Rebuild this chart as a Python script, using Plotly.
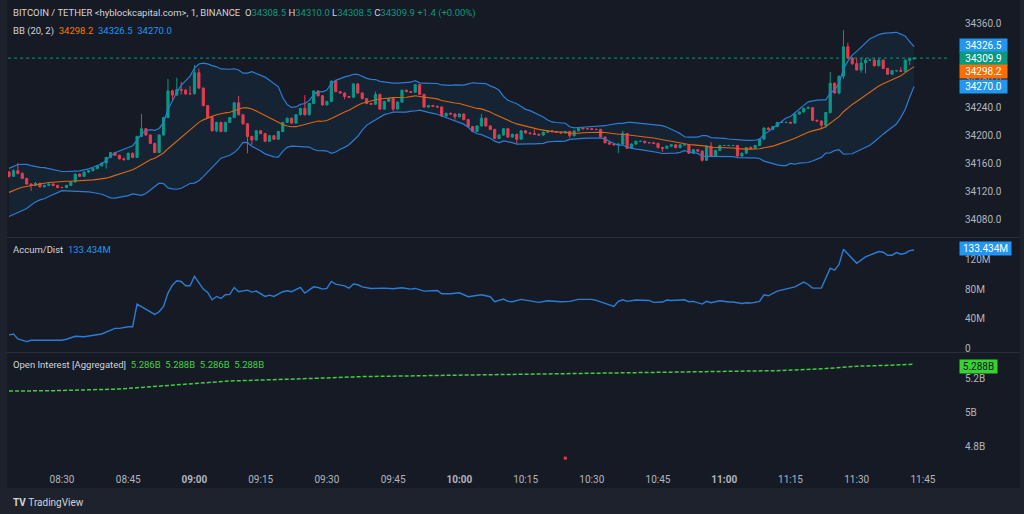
import plotly.graph_objects as go
from plotly.subplots import make_subplots
import pandas as pd

# ---------------- data ----------------
start_time = "2023-10-27 08:18"
first_open = 34147

closes = [34141,34149,34145,34138,34130,34128,34131,34126,34128,34130,
          34128,34125,34125,34128,34133,34144,34141,34147,34149,34152,
          34156,34160,34168,34175,34171,34166,34165,34174,34168,34198,
          34209,34200,34188,34175,34200,34225,34263,34257,34265,34264,
          34259,34259,34289,34267,34242,34225,34206,34218,34205,34218,
          34225,34246,34229,34216,34198,34193,34206,34202,34191,34199,
          34194,34205,34218,34224,34217,34229,34238,34229,34245,34263,
          34256,34243,34248,34277,34262,34260,34255,34254,34273,34260,
          34252,34245,34244,34258,34237,34248,34252,34237,34247,34264,
          34262,34261,34272,34258,34240,34242,34241,34240,34227,34231,
          34230,34226,34230,34222,34212,34205,34213,34224,34213,34208,
          34195,34200,34209,34197,34201,34194,34206,34203,34202,34201,
          34200,34204,34206,34205,34204,34203,34205,34199,34206,34210,
          34209,34209,34208,34208,34197,34189,34187,34186,34187,34202,
          34181,34187,34191,34191,34189,34189,34188,34182,34181,34184,
          34186,34182,34186,34186,34174,34179,34177,34164,34184,34170,
          34178,34185,34185,34185,34185,34170,34174,34182,34181,34185,
          34194,34210,34208,34212,34218,34218,34218,34217,34230,34233,
          34238,34239,34221,34220,34214,34232,34274,34260,34284,34326,
          34310,34302,34293,34303,34307,34307,34299,34307,34295,34287,
          34292,34292,34291,34307,34308.5,34309.9]

highs = [34149,34151,34160,34147,34139,34131,34133,34132,34129,34131,
         34131,34129,34126,34129,34134,34145,34145,34148,34150,34153,
         34157,34161,34169,34176,34176,34172,34168,34175,34175,34199,
         34230,34210,34201,34189,34201,34226,34280,34265,34282,34276,
         34266,34270,34300,34295,34268,34243,34226,34219,34219,34219,
         34226,34247,34256,34230,34217,34199,34207,34207,34203,34200,
         34200,34206,34219,34225,34225,34230,34239,34257,34246,34264,
         34264,34257,34249,34278,34278,34263,34261,34256,34274,34274,
         34261,34253,34246,34262,34259,34249,34253,34253,34248,34265,
         34265,34263,34273,34273,34259,34243,34243,34242,34241,34232,
         34232,34231,34231,34231,34223,34213,34214,34230,34225,34214,
         34209,34201,34210,34210,34202,34202,34207,34207,34204,34208,
         34202,34205,34207,34207,34206,34205,34206,34206,34207,34211,
         34211,34210,34210,34209,34209,34198,34190,34188,34188,34206,
         34203,34188,34192,34192,34192,34190,34190,34189,34183,34185,
         34187,34187,34187,34187,34187,34180,34180,34178,34185,34190,
         34179,34186,34186,34186,34186,34186,34175,34183,34184,34186,
         34195,34211,34211,34213,34219,34219,34219,34219,34231,34234,
         34239,34241,34240,34222,34221,34233,34290,34275,34285,34350,
         34332,34311,34310,34310,34310,34309,34310,34310,34308,34296,
         34293,34293,34297,34308,34310,34310]

lows = [34139,34140,34144,34137,34129,34120,34127,34125,34125,34127,
        34127,34124,34124,34124,34127,34132,34140,34140,34146,34148,
        34151,34155,34152,34167,34170,34165,34163,34164,34167,34167,
        34197,34199,34187,34174,34174,34199,34224,34250,34256,34258,
        34257,34257,34258,34266,34241,34224,34205,34204,34204,34204,
        34217,34224,34228,34215,34174,34186,34192,34201,34190,34190,
        34193,34193,34204,34217,34216,34216,34228,34228,34228,34244,
        34255,34242,34242,34247,34261,34259,34251,34253,34253,34259,
        34251,34244,34243,34243,34236,34236,34247,34234,34236,34246,
        34261,34260,34260,34257,34239,34239,34240,34239,34226,34226,
        34229,34222,34225,34221,34211,34204,34204,34212,34212,34207,
        34194,34194,34199,34196,34196,34188,34193,34202,34201,34200,
        34199,34199,34203,34204,34203,34202,34202,34196,34198,34205,
        34208,34208,34207,34207,34196,34188,34186,34185,34174,34186,
        34180,34180,34186,34190,34188,34188,34187,34181,34176,34180,
        34183,34181,34181,34185,34173,34173,34176,34162,34163,34169,
        34169,34177,34184,34184,34184,34169,34169,34173,34181,34180,
        34184,34193,34207,34207,34211,34217,34217,34216,34216,34229,
        34232,34237,34220,34219,34210,34210,34231,34259,34258,34280,
        34308,34300,34292,34289,34288,34306,34298,34298,34294,34286,
        34286,34290,34290,34290,34300,34308.5]

# closes before the visible window (needed for the Bollinger window of 20)
pre_closes = [34090,34102,34095,34105,34096,34101,34108,34115,34110,34114,
              34112,34113,34130,34135,34140,34138,34142,34136,34138]

# Accumulation / Distribution (millions) at candle indices
ad_idx = [0,1,2,4,5,9,12,13,15,17,21,24,25,27,28,29,31,33,34,35,36,37,38,39,40,41,42,43,44,45,46,47,48,49,50,51,52,54,55,56,58,59,60,62,63,64,66,67,69,70,71,72,73,74,76,77,78,79,80,82,85,87,89,91,92,94,97,98,100,102,104,107,109,110,112,113,114,116,118,120,122,125,127,129,132,133,135,137,138,139,140,142,145,146,148,149,150,153,154,155,157,158,159,161,163,164,166,167,168,170,171,172,174,176,178,180,181,182,184,186,187,188,189,190,191,192,194,195,197,198,199,200,201,202,203,204,205]
ad_val = [18,19.2,12.4,8.8,10.6,11,10.6,12,16,15.5,19.2,26.8,26.8,29,29,59.8,52.2,45.8,49.4,56.7,74.8,85.6,91.5,90.6,84.7,84.7,97.4,89.2,80.2,75.7,65.7,70.2,67.5,72.5,73,82.4,76.6,78.8,76.1,77.5,70.2,72,70.2,76.6,77.9,76.6,82.4,74.8,83.3,82.4,80.2,81.1,90.6,87,84.7,81.5,87,86.1,83.3,81.1,81.5,80.6,82,80.2,81.1,77.5,78.4,73.9,73.9,75.2,69.8,72.5,69.8,63,66.6,63.5,63,66.2,63.9,62.1,64.4,63,63.5,66.2,66.2,64.8,60.7,56.7,63.5,65.7,63.5,65.3,64.8,62.1,62.6,65.3,64.8,65.7,63,63.5,59.8,63.5,61.6,64.4,62.6,62.6,60.7,61.6,61.2,63.5,72.5,71.1,77.5,80.6,83.3,89.7,86.5,81.5,81.5,108.7,105.9,113.6,134.4,128,121,115.4,124,126.3,131.3,130.4,126.3,126.3,129.9,127.6,129,132.6,133.434]

# Open interest (billions) at candle indices
oi_idx = [0,10,25,40,50,65,80,100,120,140,160,175,185,192,200,205]
oi_val = [5.128,5.130,5.140,5.170,5.188,5.200,5.214,5.222,5.230,5.236,5.244,5.250,5.262,5.276,5.282,5.288]
oi_glitch_idx = [126]
oi_glitch_val = [4.728]

tick_clock = ["08:30","08:45","09:00","09:15","09:30","09:45","10:00",
              "10:15","10:30","10:45","11:00","11:15","11:30","11:45"]
tick_labels = ["08:30","08:45","<b>09:00</b>","09:15","09:30","09:45","<b>10:00</b>",
               "10:15","10:30","10:45","<b>11:00</b>","11:15","11:30","11:45"]
price_ticks = [34080, 34120, 34160, 34200, 34240, 34280, 34360]

# ---------------- derived ----------------
times = pd.date_range(start_time, periods=len(closes), freq="min")
opens = [first_open] + closes[:-1]
all_close = pd.Series(pre_closes + closes)
basis = all_close.rolling(20).mean().iloc[len(pre_closes):].values
sd = all_close.rolling(20).std(ddof=0).iloc[len(pre_closes):].values
upper = basis + 2 * sd
lower = basis - 2 * sd
day = start_time[:10]
tick_vals = [f"{day} {t}:00" for t in tick_clock]

UP = "#089981"
DOWN = "#f23645"
BLUE = "#2a7dd6"
ORANGE = "#e0650e"
TXT = "#b2b5be"
BG = "#161a25"
OUTER = "#1e222d"
FONT = "Roboto, Noto Sans, sans-serif"

fig = make_subplots(rows=3, cols=1, shared_xaxes=True)

fig.add_trace(go.Scatter(x=times, y=upper, mode="lines", line=dict(color=BLUE, width=1.2),
                         hoverinfo="skip", showlegend=False), row=1, col=1)
fig.add_trace(go.Scatter(x=times, y=lower, mode="lines", line=dict(color=BLUE, width=1.2),
                         fill="tonexty", fillcolor="rgba(33,150,243,0.07)",
                         hoverinfo="skip", showlegend=False), row=1, col=1)
fig.add_trace(go.Scatter(x=times, y=basis, mode="lines", line=dict(color=ORANGE, width=1.1),
                         hoverinfo="skip", showlegend=False), row=1, col=1)
fig.add_trace(go.Candlestick(x=times, open=opens, high=highs, low=lows, close=closes,
                             increasing=dict(line=dict(color=UP, width=1), fillcolor=UP),
                             decreasing=dict(line=dict(color=DOWN, width=1), fillcolor=DOWN),
                             whiskerwidth=0, showlegend=False), row=1, col=1)

fig.add_trace(go.Scatter(x=[times[i] for i in ad_idx], y=[v * 1e6 for v in ad_val], mode="lines",
                         line=dict(color=BLUE, width=1.4), showlegend=False), row=2, col=1)

fig.add_trace(go.Scatter(x=[times[i] for i in oi_idx], y=[v * 1e9 for v in oi_val], mode="lines",
                         line=dict(color="#3fcf3f", width=1.5, dash="4px,2px"), showlegend=False), row=3, col=1)
fig.add_trace(go.Scatter(x=[times[i] for i in oi_glitch_idx], y=[v * 1e9 for v in oi_glitch_val],
                         mode="markers", marker=dict(color=DOWN, size=3, symbol="square"),
                         showlegend=False), row=3, col=1)

x0 = pd.Timestamp(f"{day} 08:17:46")
x1 = pd.Timestamp(f"{day} 11:51:08")

fig.update_layout(
    width=1024, height=514,
    margin=dict(l=8, r=74, t=0, b=52),
    paper_bgcolor=OUTER, plot_bgcolor=BG,
    font=dict(family=FONT, size=10, color=TXT),
    showlegend=False,
    hovermode=False,
)
axis_common = dict(showgrid=False, zeroline=False, showline=False, ticks="")
fig.update_xaxes(range=[x0, x1], rangeslider_visible=False, **axis_common)
fig.update_xaxes(tickvals=tick_vals, ticktext=tick_labels, showticklabels=True,
                 ticklabelstandoff=10, tickfont=dict(size=10, color=TXT), row=3, col=1)

fig.update_yaxes(side="right", ticklabelstandoff=14, **axis_common)
fig.update_yaxes(domain=[0.487, 1.0], range=[34054.3, 34392.9], tickvals=price_ticks,
                 tickformat=".1f", row=1, col=1)
fig.update_yaxes(domain=[0.238, 0.485], range=[-5.4e6, 149.8e6],
                 tickvals=[0, 40e6, 80e6, 120e6], ticktext=["0", "40M", "80M", "120M"], row=2, col=1)
fig.update_yaxes(domain=[0.0, 0.236], range=[4.705e9, 5.355e9],
                 tickvals=[4.8e9, 5.0e9, 5.2e9], ticktext=["4.8B", "5B", "5.2B"], row=3, col=1)

def py(pix):
    return 1 - pix / 462.0

def px(pix):
    return (pix - 8) / 942.0

shapes = [
    dict(type="rect", xref="paper", yref="paper", x0=px(7), x1=px(1020), y0=py(488), y1=py(0),
         fillcolor=BG, line=dict(width=0), layer="below"),
    dict(type="line", xref="paper", yref="paper", x0=px(7), x1=px(1020), y0=py(237.5), y1=py(237.5),
         line=dict(color="#2a2e39", width=1)),
    dict(type="line", xref="paper", yref="paper", x0=px(7), x1=px(1020), y0=py(352.5), y1=py(352.5),
         line=dict(color="#2a2e39", width=1)),
    dict(type="line", xref="paper", yref="y", x0=0, x1=1, y0=closes[-1], y1=closes[-1],
         line=dict(color=UP, width=1, dash="dot")),
]
fig.update_layout(shapes=shapes)

G = UP
sp = "&nbsp;"
title1 = ('<span style="color:#d1d4dc">BITCOIN / TETHER &lt;hyblockcapital.com&gt;, 1, BINANCE</span>' + sp * 2 +
          f'<span style="color:#d1d4dc">O</span><span style="color:{G}">34308.5</span>{sp}'
          f'<span style="color:#d1d4dc">H</span><span style="color:{G}">34310.0</span>{sp}'
          f'<span style="color:#d1d4dc">L</span><span style="color:{G}">34308.5</span>{sp}'
          f'<span style="color:#d1d4dc">C</span><span style="color:{G}">34309.9</span>{sp}'
          f'<span style="color:{G}">+1.4 (+0.00%)</span>')
title2 = ('<span style="color:#d1d4dc">BB (20, 2)</span>' + sp * 2 +
          f'<span style="color:#f57c00">34298.2</span>{sp}{sp}'
          f'<span style="color:#2196f3">34326.5</span>{sp}{sp}'
          f'<span style="color:#2196f3">34270.0</span>')
title3 = f'<span style="color:#d1d4dc">Accum/Dist</span>{sp}{sp}<span style="color:#2196f3">133.434M</span>'
OIG = "#3fd13f"
title4 = (f'<span style="color:#d1d4dc">Open Interest [Aggregated]</span>{sp}{sp}'
          f'<span style="color:{OIG}">5.286B</span>{sp}{sp}<span style="color:{OIG}">5.288B</span>{sp}{sp}'
          f'<span style="color:{OIG}">5.286B</span>{sp}{sp}<span style="color:{OIG}">5.288B</span>')

ann = []
for txt, ypix in [(title1, 13), (title2, 31), (title3, 249), (title4, 364)]:
    ann.append(dict(text=txt, xref="paper", yref="paper", x=px(11), y=py(ypix),
                    xanchor="left", yanchor="middle", showarrow=False,
                    font=dict(family=FONT, size=9.5)))

def badge(text, ypix, bg, w, fg="#ffffff"):
    return dict(text=text, xref="paper", yref="paper", x=px(959), y=py(ypix),
                xanchor="left", yanchor="middle", showarrow=False, bgcolor=bg,
                width=w, height=11, align="center",
                borderpad=1, font=dict(family=FONT, size=10, color=fg))

ann += [
    badge("34326.5", 46, "#2196f3", 45),
    badge("34309.9", 59, UP, 45),
    badge("34298.2", 71.5, "#ff6d00", 45),
    badge("34270.0", 86, "#2196f3", 45),
    badge("133.434M", 248, "#2196f3", 49),
    badge("5.288B", 366, "#35d135", 35, "#131722"),
]
ann.append(dict(text="<b>TV</b>" + sp + "TradingView", xref="paper", yref="paper", x=px(11), y=py(502),
                xanchor="left", yanchor="middle", showarrow=False,
                font=dict(family=FONT, size=10, color="#d1d4dc")))
fig.update_layout(annotations=ann)

fig.write_html("out.html", config={"displayModeBar": False},
               post_script="document.body.style.margin='0';")
